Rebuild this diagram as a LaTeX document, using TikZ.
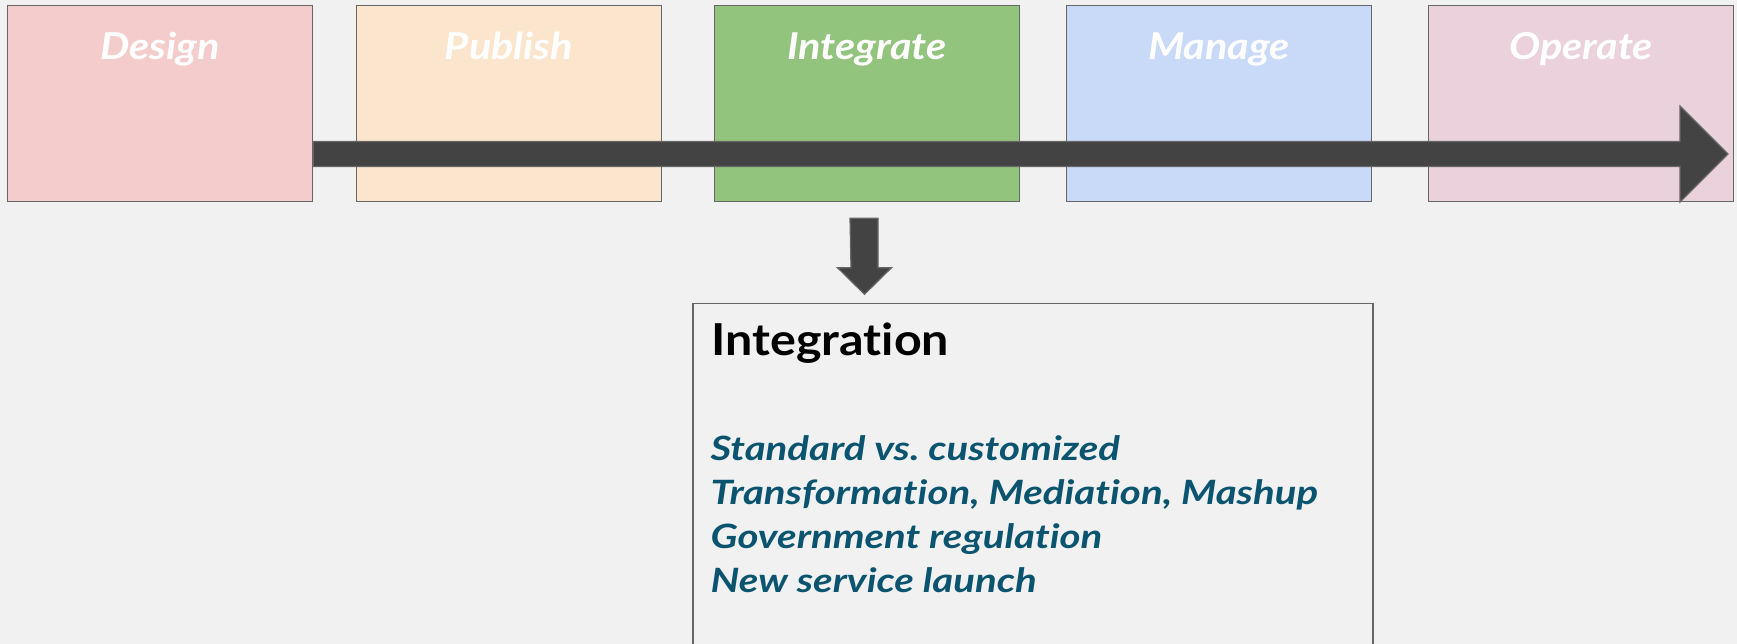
\documentclass[tikz,border=0pt]{standalone}
\usepackage{fontspec}
\setmainfont{Lato}[Ligatures=NoCommon]
\newfontfamily\labelfont{Lato}[Ligatures=NoCommon, FakeStretch=1.12]
\newfontfamily\titlefont{Lato}[Ligatures=NoCommon, FakeStretch=1.1]
\newfontfamily\itemfont{Lato}[Ligatures=NoCommon, FakeStretch=1.2]
\usepackage{tikz}
\usetikzlibrary{arrows.meta}
\usetikzlibrary{positioning}
\frenchspacing

\definecolor{bggray}{HTML}{F1F1F1}
\definecolor{linegray}{HTML}{666666}
\definecolor{arrowgray}{HTML}{434343}
\definecolor{designred}{HTML}{F4CCCC}
\definecolor{publishorange}{HTML}{FCE5CD}
\definecolor{integrategreen}{HTML}{93C47D}
\definecolor{manageblue}{HTML}{C9DAF8}
\definecolor{operatepink}{HTML}{EAD1DC}
\definecolor{itemteal}{HTML}{0B5470}

\begin{document}
\begin{tikzpicture}[x=1pt,y=1pt,
    phase/.style={draw=linegray, line width=1.6pt, minimum width=305pt, minimum height=196pt, inner sep=0pt},
    phaselabel/.style={anchor=base, text=white, font=\labelfont\fontsize{37}{40}\selectfont\bfseries\itshape},
    bigarrow/.style={fill=arrowgray, draw=linegray, line width=1.2pt, line join=miter},
    detailbox/.style={draw=linegray, line width=1.6pt, anchor=north west, minimum width=680pt, minimum height=380pt, inner sep=0pt},
    itemtext/.style={anchor=base west, text=itemteal, font=\itemfont\fontsize{33.5}{44}\selectfont\bfseries\itshape}]
    \fill[bggray] (0,0) rectangle (1737,-644);
    \useasboundingbox (0,0) rectangle (1737,-644);

    % lifecycle phases
    \node[phase, fill=designred] (design) at (160,-103.5) {};
    \node[phase, fill=publishorange] (publish) at (509,-103.5) {};
    \node[phase, fill=integrategreen] (integrate) at (867,-103.5) {};
    \node[phase, fill=manageblue] (manage) at (1219,-103.5) {};
    \node[phase, fill=operatepink] (operate) at (1581,-103.5) {};

    \node[phaselabel] at ([yshift=-55pt]design.north) {Design};
    \node[phaselabel] at ([yshift=-55pt]publish.north) {Publish};
    \node[phaselabel] at ([yshift=-55pt]integrate.north) {Integrate};
    \node[phaselabel] at ([yshift=-55pt]manage.north) {Manage};
    \node[phaselabel] at ([yshift=-55pt]operate.north) {Operate};

    % timeline arrow
    \coordinate (timeend) at (1728,-154);
    \coordinate (timestart) at (design.east |- timeend);
    \filldraw[bigarrow] ([yshift=12.5pt]timestart) -- ([xshift=-48pt,yshift=12.5pt]timeend)
        -- ([xshift=-48pt,yshift=48pt]timeend) -- (timeend)
        -- ([xshift=-48pt,yshift=-48pt]timeend) -- ([xshift=-48pt,yshift=-12.5pt]timeend)
        -- ([yshift=-12.5pt]timestart) -- cycle;

    % detail box
    \node[detailbox] (integration) at (692,-302.7) {};
    \filldraw[bigarrow] ([xshift=-17pt,yshift=-16pt]integrate.south) -- ++(28,0) -- ++(0,-49.4)
        -- ++(13.5,0) -- ++(-27,-26.6) -- ++(-27,26.6) -- ++(13.5,0) -- cycle;

    \node[anchor=base west, font=\titlefont\fontsize{44}{48}\selectfont\bfseries] (title) at (708,-355) {Integration};
    \foreach \entry [count=\i] in {Standard vs. customized, {Transformation, Mediation, Mashup}, Government regulation, New service launch}
        \node[itemtext] (item\i) at (707,-416-44*\i) {\entry};
\end{tikzpicture}
\end{document}
